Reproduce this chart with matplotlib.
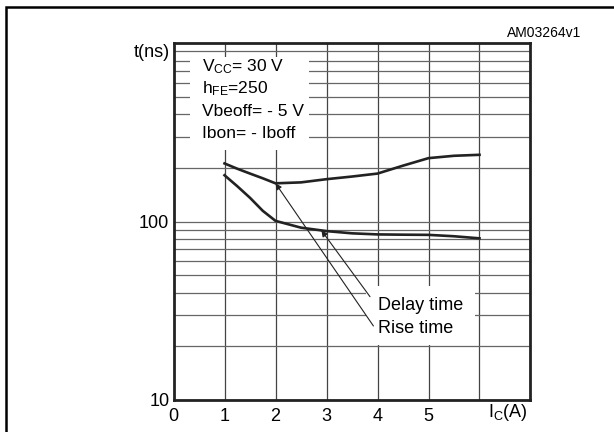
import numpy as np
import matplotlib.pyplot as plt
from matplotlib.patches import Rectangle
from matplotlib.ticker import LogLocator, NullFormatter, FixedLocator

plt.rcParams['font.family'] = ['Liberation Sans', 'DejaVu Sans']
plt.rcParams['mathtext.fontset'] = 'custom'
plt.rcParams['mathtext.rm'] = 'Liberation Sans'
plt.rcParams['mathtext.it'] = 'Liberation Sans'

# collector current Ic (A)
ic = [1, 1.25, 1.5, 1.75, 2, 2.5, 3, 3.5, 4, 4.5, 5, 5.5, 6]
# rise time (ns), upper curve
rise = [212, 198, 186, 175, 164, 166, 173, 179, 186, 206, 227, 234, 237]
# delay time (ns), lower curve
delay = [182, 158, 136, 115, 101, 92.5, 88.5, 86, 84.8, 84.5, 84.3, 82.8, 80.6]

xticks = [0, 1, 2, 3, 4, 5]
xtick_labels = ['0', '1', '2', '3', '4', '5']
xgrid = [1, 2, 3, 4, 5, 6]
yticks = [10, 100]
ytick_labels = ['10', '100']

conditions = [r'V$_{\mathrm{CC}}$= 30 V', r'h$_{\mathrm{FE}}$=250',
              'Vbeoff= - 5 V', 'Ibon= - Iboff']

fig = plt.figure(figsize=(6.14, 4.32), dpi=100)
ax = fig.add_axes([0.2826, 0.0741, 0.5814, 0.8257])

ax.set_yscale('log')
ax.set_xlim(0, 7)
ax.set_ylim(10, 1000)

# grid
ax.yaxis.set_major_locator(FixedLocator([10, 100, 1000]))
ax.yaxis.set_minor_locator(LogLocator(base=10, subs=np.arange(2, 10)))
ax.yaxis.set_minor_formatter(NullFormatter())
ax.grid(which='both', axis='y', color='#666666', lw=0.9)
for xg in xgrid:
    ax.axvline(xg, color='#444444', lw=0.9, zorder=0.5)

ax.set_yticks(yticks)
ax.set_yticklabels(ytick_labels)
ax.set_xticks(xticks)
ax.set_xticklabels(xtick_labels)
ax.tick_params(which='both', length=0, labelsize=13)
ax.tick_params(axis='y', pad=3)
ax.tick_params(axis='x', pad=6)
for s in ax.spines.values():
    s.set_linewidth(2.0)
    s.set_color('#222222')
    s.set_zorder(5)

ax.plot(ic, rise, color='#222222', lw=1.9, zorder=3)
ax.plot(ic, delay, color='#222222', lw=1.9, zorder=3)

# white boxes behind the texts (hide the grid there)
ax.add_patch(Rectangle((0.046, 0.70), 0.334, 0.262, transform=ax.transAxes,
                       facecolor='white', edgecolor='none', zorder=2))
ax.add_patch(Rectangle((0.539, 0.154), 0.306, 0.166, transform=ax.transAxes,
                       facecolor='white', edgecolor='none', zorder=2))

for i, c in enumerate(conditions):
    ax.text(0.079, 0.922 - i * 0.0625, c, transform=ax.transAxes,
            fontsize=12.5, va='baseline', ha='left', zorder=4)

ax.text(0.574, 0.253, 'Delay time', transform=ax.transAxes, fontsize=13,
        va='baseline', zorder=4)
ax.text(0.574, 0.189, 'Rise time', transform=ax.transAxes, fontsize=13,
        va='baseline', zorder=4)

arrow = dict(arrowstyle='-|>', lw=0.8, color='#222222', mutation_scale=9,
             shrinkA=0, shrinkB=0)
ax.annotate('', xy=(2, np.interp(2, ic, rise)), xycoords='data',
            xytext=(0.560, 0.2075), textcoords='axes fraction',
            arrowprops=arrow, zorder=4)
ax.annotate('', xy=(2.9, np.interp(2.9, ic, delay)), xycoords='data',
            xytext=(0.5504, 0.2896), textcoords='axes fraction',
            arrowprops=arrow, zorder=4)

ax.text(-0.01, 0.975, 't(ns)', transform=ax.transAxes, fontsize=13,
        ha='right', va='center')
ax.text(0.937, -0.034, r'I$_{\mathrm{C}}$(A)', transform=ax.transAxes,
        fontsize=13, ha='center', va='center')
fig.text(581 / 614, 1 - 33 / 432, 'AM03264v1', fontsize=10,
         ha='right', va='center')

# outer frame of the figure
fig.patches.append(Rectangle((6 / 614, -0.1), 1.2, 1.1 - 7 / 432,
                             transform=fig.transFigure, fill=False,
                             edgecolor='black', lw=1.8))

fig.savefig('out.png', dpi=100)
